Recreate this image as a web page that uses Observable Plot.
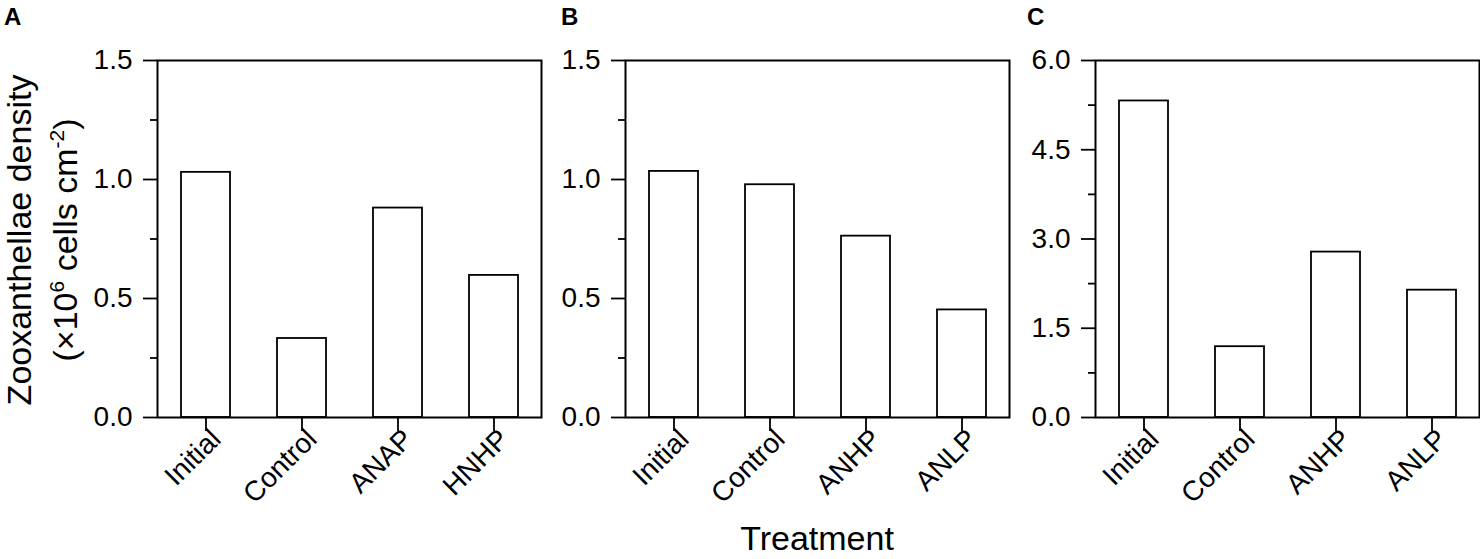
<!DOCTYPE html>
<html><head><meta charset="utf-8">
<script src="https://cdn.jsdelivr.net/npm/d3@7"></script>
<script src="https://cdn.jsdelivr.net/npm/@observablehq/plot@0.6"></script>
<style>
body{margin:0;background:#fff;}
#fig{position:relative;width:1480px;height:559px;overflow:hidden;background:#fff;font-family:"Liberation Sans",Arial,sans-serif;}
#fig .panel{position:absolute;top:0;}
#fig svg{overflow:visible;}
#overlay{position:absolute;left:0;top:0;}
</style></head><body><div id="fig"></div>
<script>
// ---- data ----
const categoriesA = ["Initial", "Control", "ANAP", "HNHP"];
const valuesA = [1.03, 0.332, 0.88, 0.597];
const categoriesB = ["Initial", "Control", "ANHP", "ANLP"];
const valuesB = [1.034, 0.978, 0.762, 0.452];
const categoriesC = ["Initial", "Control", "ANHP", "ANLP"];
const valuesC = [5.32, 1.19, 2.78, 2.14];
const majorTicksAB = [0, 0.5, 1.0, 1.5];
const minorTicksAB = [0.25, 0.75, 1.25];
const majorTicksC = [0, 1.5, 3.0, 4.5, 6.0];
const minorTicksC = [0.75, 2.25, 3.75, 5.25];
const panelLetters = ["A", "B", "C"];
const yTitleLine1 = "Zooxanthellae density";
const xTitle = "Treatment";

const FONT = "Liberation Sans, Arial, sans-serif";
const fig = document.getElementById("fig");

function panel({cats, vals, domain, major, minor, left, width, marginLeft, marginRight}) {
  const data = cats.map((c, i) => ({cat: c, value: vals[i]}));
  const svg = Plot.plot({
    width, height: 480,
    marginTop: 60, marginBottom: 63, marginLeft, marginRight,
    style: {background: "transparent", fontFamily: FONT, color: "#000", overflow: "visible"},
    x: {domain: cats, paddingInner: 0.49, paddingOuter: 0.245, align: 0.5},
    y: {domain},
    marks: [
      Plot.barY(data, {x: "cat", y: "value", fill: "white", stroke: "black", strokeWidth: 1.8}),
      Plot.axisY({ticks: minor, tickSize: 7, text: null, label: null, strokeWidth: 1.8}),
      Plot.axisY({ticks: major, tickSize: 14, tickPadding: 11, fontSize: 28, label: null,
                  tickFormat: d3.format(".1f"), strokeWidth: 1.8}),
      Plot.axisX({tickSize: 14, text: null, label: null, strokeWidth: 1.8}),
      Plot.text(cats, {x: d => d, frameAnchor: "bottom", rotate: -45, textAnchor: "end",
                       lineAnchor: "middle", dx: 10, dy: 17, fontSize: 28, fill: "black"}),
      Plot.frame({stroke: "black", strokeWidth: 2})
    ]
  });
  const wrap = document.createElement("div");
  wrap.className = "panel";
  wrap.style.left = left + "px";
  wrap.appendChild(svg);
  fig.appendChild(wrap);
}

panel({cats: categoriesA, vals: valuesA, domain: [0, 1.5], major: majorTicksAB, minor: minorTicksAB,
       left: 0, width: 560, marginLeft: 157, marginRight: 19});
panel({cats: categoriesB, vals: valuesB, domain: [0, 1.5], major: majorTicksAB, minor: minorTicksAB,
       left: 560, width: 470, marginLeft: 65, marginRight: 21});
panel({cats: categoriesC, vals: valuesC, domain: [0, 6], major: majorTicksC, minor: minorTicksC,
       left: 1030, width: 450, marginLeft: 65, marginRight: 1});

// ---- titles overlay ----
const ns = "http://www.w3.org/2000/svg";
const ov = document.createElementNS(ns, "svg");
ov.setAttribute("id", "overlay");
ov.setAttribute("width", 1480);
ov.setAttribute("height", 559);
ov.style.pointerEvents = "none";
const letterX = [4, 561, 1027];
panelLetters.forEach((L, i) => {
  const t = document.createElementNS(ns, "text");
  t.setAttribute("x", letterX[i]);
  t.setAttribute("y", 25);
  t.setAttribute("font-family", FONT);
  t.setAttribute("font-weight", "bold");
  t.setAttribute("font-size", 24);
  t.textContent = L;
  ov.appendChild(t);
});
const y1 = document.createElementNS(ns, "text");
y1.setAttribute("transform", "translate(31,240) rotate(-90)");
y1.setAttribute("text-anchor", "middle");
y1.setAttribute("font-family", FONT);
y1.setAttribute("font-size", 34);
y1.textContent = yTitleLine1;
ov.appendChild(y1);
const y2 = document.createElementNS(ns, "text");
y2.setAttribute("transform", "translate(77,240) rotate(-90)");
y2.setAttribute("text-anchor", "middle");
y2.setAttribute("font-family", FONT);
y2.setAttribute("font-size", 34);
y2.innerHTML = '(×10<tspan font-size="21" dy="-13">6</tspan><tspan dy="13"> cells cm</tspan><tspan font-size="21" dy="-13">-2</tspan><tspan dy="13">)</tspan>';
ov.appendChild(y2);
const xt = document.createElementNS(ns, "text");
xt.setAttribute("x", 817);
xt.setAttribute("y", 550);
xt.setAttribute("text-anchor", "middle");
xt.setAttribute("font-family", FONT);
xt.setAttribute("font-size", 34);
xt.textContent = xTitle;
ov.appendChild(xt);
fig.appendChild(ov);
</script>
</body></html>
